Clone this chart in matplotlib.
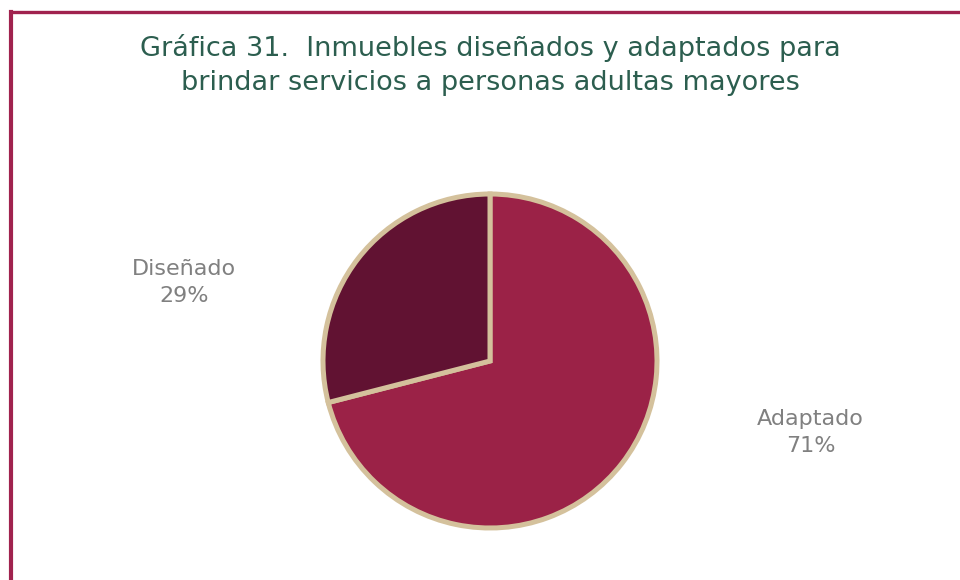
import matplotlib
matplotlib.use("Agg")
import matplotlib.pyplot as plt
from matplotlib.lines import Line2D

# data
labels = ["Adaptado", "Diseñado"]
values = [71, 29]
colors = ["#9B2247", "#611232"]
title = "Gráfica 31.  Inmuebles diseñados y adaptados para\nbrindar servicios a personas adultas mayores"

W, H = 960, 580
fig = plt.figure(figsize=(W / 100, H / 100), dpi=100)

# pie axes: centre at (490, 361) px, radius ~167 px
r_px = 167
cx, cy = 490, 361
ax = fig.add_axes([0, 0, 1, 1])
ax.pie(values, colors=colors, startangle=90, counterclock=False,
       wedgeprops=dict(edgecolor="#D4C19C", linewidth=3.6))
ax.set_xlim(-cx / r_px, (W - cx) / r_px)
ax.set_ylim(-(H - cy) / r_px, cy / r_px)
ax.set_aspect("auto")
ax.axis("off")

# data labels
lab_pos = {"Adaptado": (1.92, -0.43), "Diseñado": (-1.83, 0.47)}
for lab, val in zip(labels, values):
    x, y = lab_pos[lab]
    ax.text(x, y, f"{lab}\n{val}%", ha="center", va="center", fontsize=16,
            color="#808080", linespacing=1.45)

fig.text(490 / W, 1 - 65 / H, title, ha="center", va="center",
         fontsize=19.5, color="#2C5E4F", linespacing=1.4)

# frame (left and top)
lc = "#A0224E"
fig.add_artist(Line2D([10.5 / W, 10.5 / W], [0, 1 - 11.5 / H],
                      color=lc, lw=3, transform=fig.transFigure,
                      solid_capstyle="projecting"))
fig.add_artist(Line2D([10.5 / W, 1], [1 - 11.5 / H, 1 - 11.5 / H],
                      color=lc, lw=2.4, transform=fig.transFigure,
                      solid_capstyle="projecting"))

fig.savefig("out.png", dpi=100, facecolor="white")
